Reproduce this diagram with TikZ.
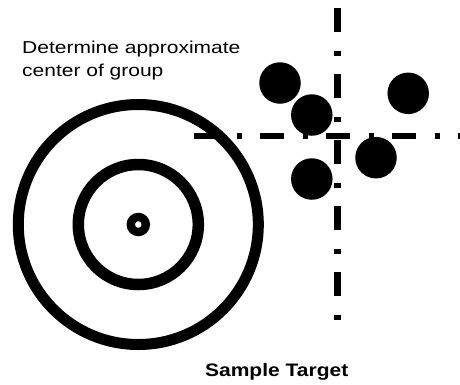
\documentclass[tikz,border=0pt]{standalone}
\usepackage{graphicx}
\usepackage{fontspec}
\setmainfont{Liberation Sans}
\begin{document}
\begin{tikzpicture}[x=1pt,y=-1pt,
  ring/.style={draw=black,line width=#1},
  shot/.style={circle,fill=black,draw=none,inner sep=0pt,minimum size=41.5pt},
  crossline/.style={line width=#1,line cap=butt,dash pattern=on 24pt off 18.5pt on 5pt off 18.5pt},
  lbl/.style={inner sep=0pt,anchor=base west,font=\fontsize{21pt}{25pt}\selectfont}]
\useasboundingbox (0,0) rectangle (460,384);
% target
\coordinate (c) at (138.3,224.5);
\draw[ring=11pt] (c) circle[radius=120];
\draw[ring=11.5pt] (c) circle[radius=60];
\draw[ring=8.4pt] (c) circle[radius=7.5];
% shots
\node[shot] (s1) at (280,83) {};
\node[shot] (s2) at (311.8,115) {};
\node[shot] (s3) at (408.2,93.3) {};
\node[shot] (s4) at (376,157.7) {};
\node[shot] (s5) at (311.8,179) {};
% cross lines
\coordinate (vt) at (337.7,8.3);
\coordinate (vb) at (337.7,319.6);
\coordinate (hl) at (194,136);
\coordinate (hr) at (465,136);
\draw[crossline=7pt] (vt) -- (vb);
\draw[crossline=5.8pt] (hl) -- (hr);
% labels
\node[lbl] (t1) at (22,53.3) {\scalebox{1}[0.82]{Determine approximate}};
\node[lbl] (t2) at (22,76.3) {\scalebox{1}[0.82]{center of group}};
\node[inner sep=0pt,anchor=base,font=\bfseries\fontsize{21pt}{25pt}\selectfont] (t3) at (276.7,376.7) {\scalebox{1}[0.86]{Sample Target}};
\end{tikzpicture}
\end{document}
